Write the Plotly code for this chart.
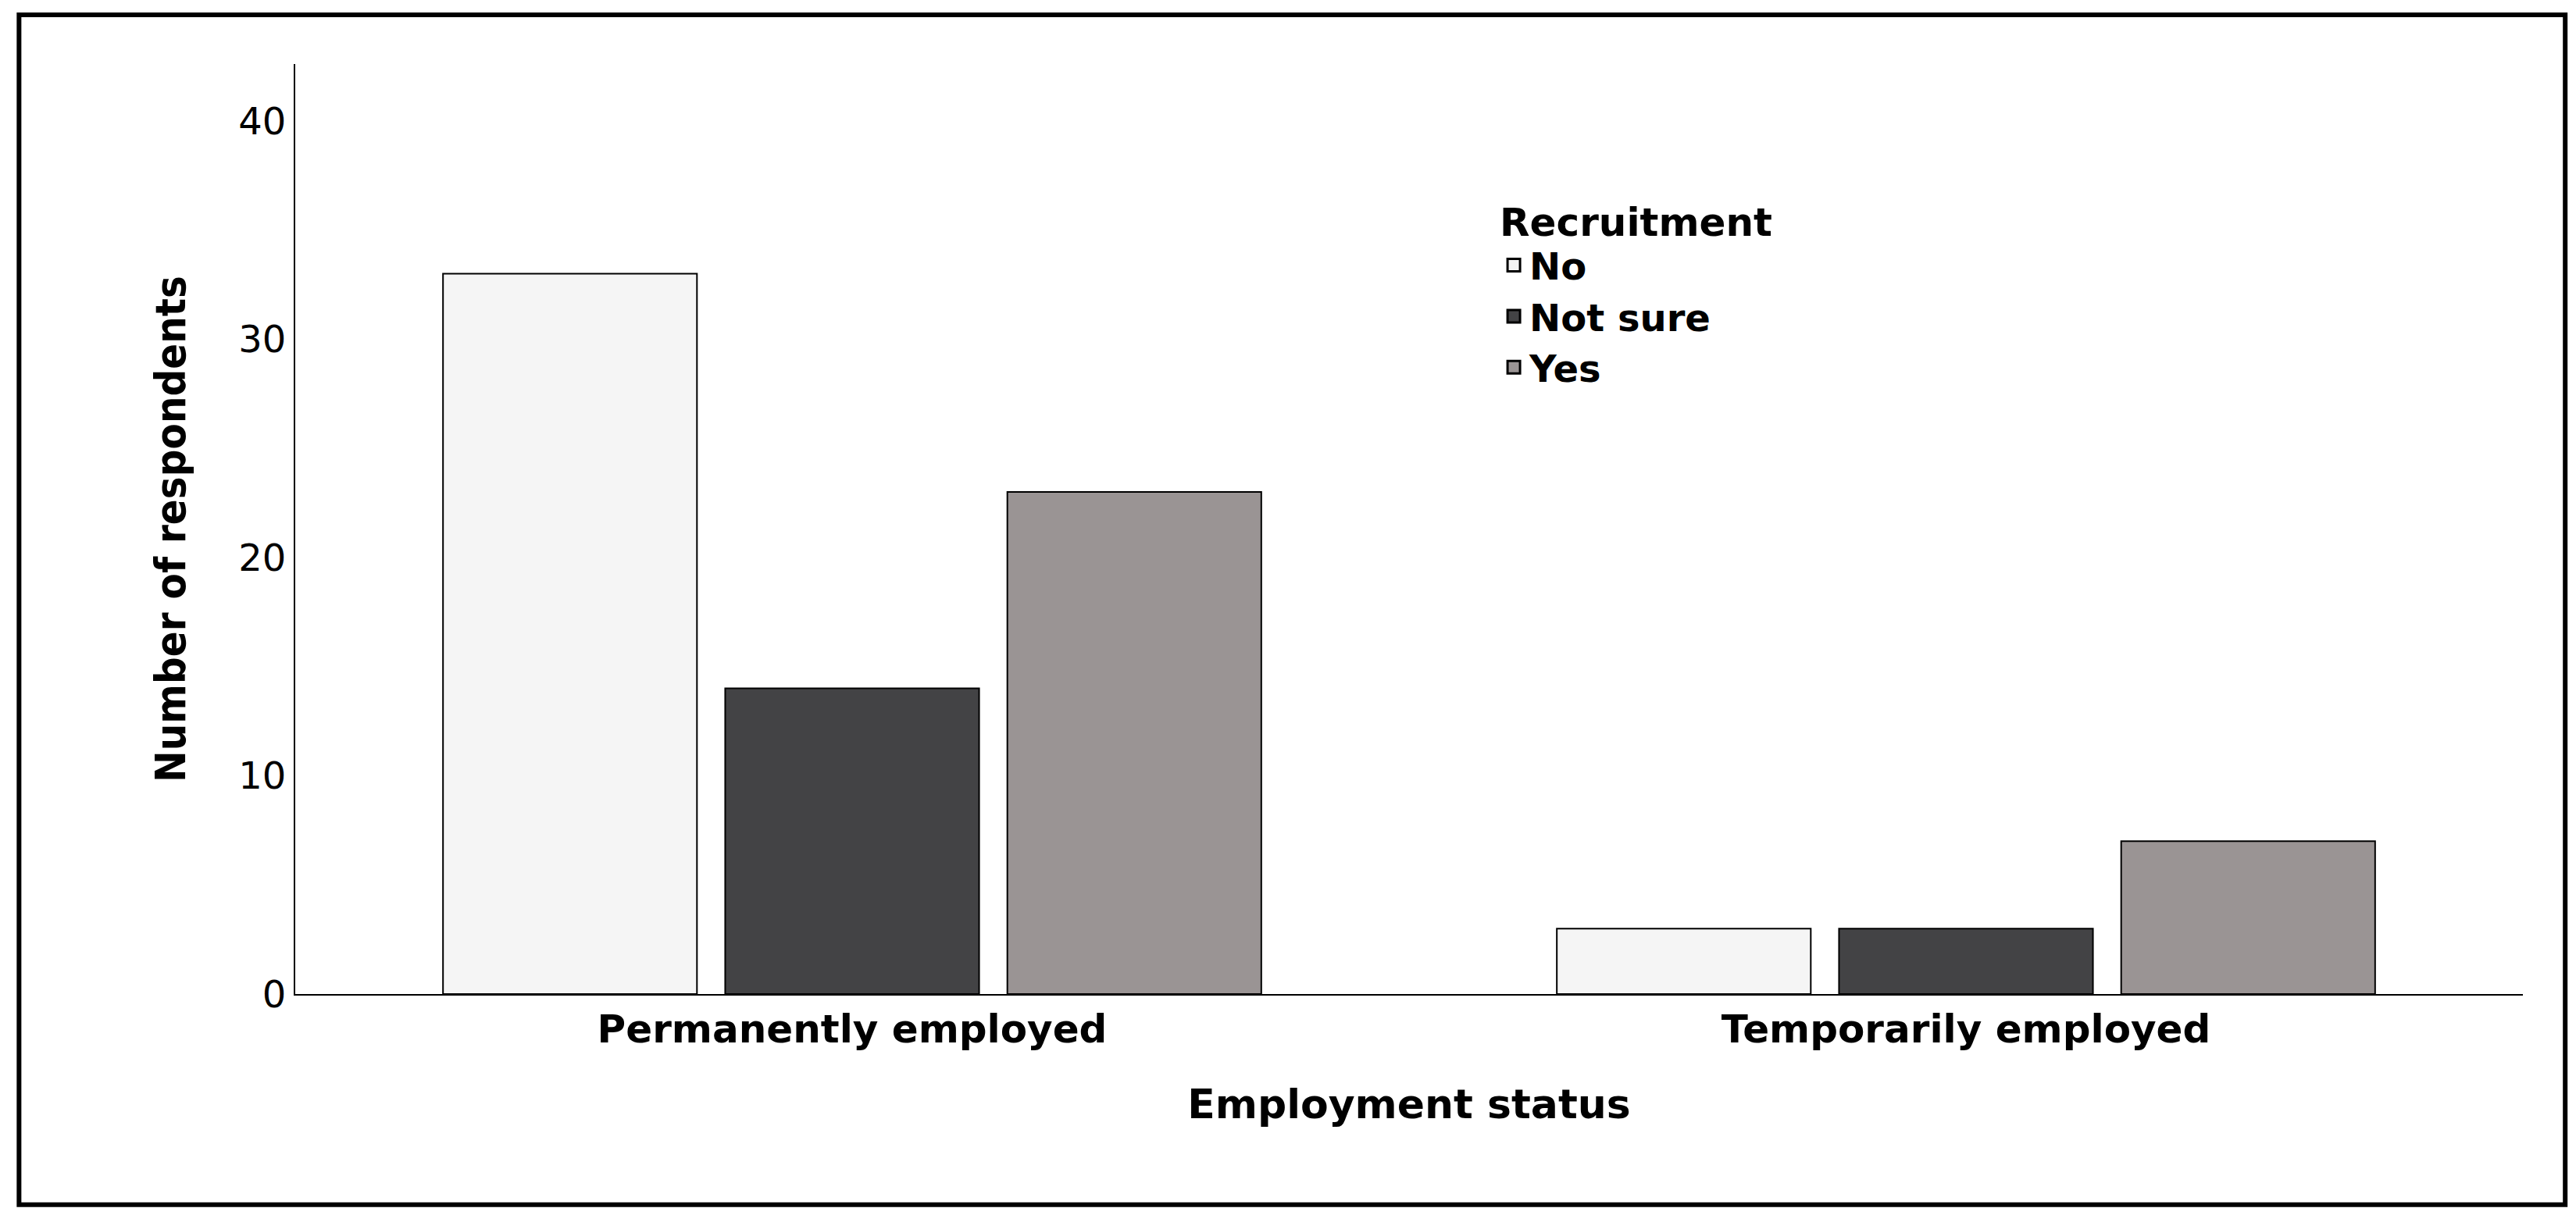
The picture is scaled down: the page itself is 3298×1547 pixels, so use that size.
import plotly.graph_objects as go

categories = ["Permanently employed", "Temporarily employed"]
series_names = ["No", "Not sure", "Yes"]
values_no = [33, 3]
values_not_sure = [14, 3]
values_yes = [23, 7]
colors = ["#f5f5f5", "#434345", "#9a9494"]

fig = go.Figure()
for name, vals, col in zip(series_names, [values_no, values_not_sure, values_yes], colors):
    fig.add_trace(go.Bar(x=categories, y=vals, name=name, showlegend=False,
                         marker=dict(color=col, line=dict(color="black", width=2))))
# legend entries with large square swatches
for name, col in zip(series_names, colors):
    fig.add_trace(go.Scatter(x=[None], y=[None], mode="markers", name="<b>" + name + "</b>",
                             marker=dict(symbol="square", size=34, color=col,
                                         line=dict(color="black", width=3))))

fig.update_layout(
    width=3298, height=1547,
    paper_bgcolor="white", plot_bgcolor="white",
    margin=dict(l=370, r=76, t=74, b=282),
    barmode="group", bargap=0.24, bargroupgap=0.1,
    font=dict(family="DejaVu Sans, Verdana, sans-serif", color="black", size=50),
    legend=dict(x=0.54, y=0.87, xanchor="left", yanchor="top",
                title=dict(text="<b>Recruitment</b>", font=dict(size=50)),
                font=dict(size=48), bgcolor="rgba(0,0,0,0)", tracegroupgap=0,
                itemwidth=30),
    xaxis=dict(showline=True, linecolor="black", linewidth=2, showgrid=False,
               ticks="", tickfont=dict(size=50),
               title=dict(text="<b>Employment status</b>", font=dict(size=52), standoff=50)),
    yaxis=dict(range=[0, 42.6], dtick=10, showline=True, linecolor="black", linewidth=2,
               showgrid=False, zeroline=False, ticks="", tickfont=dict(size=48),
               title=dict(text="<b>Number of respondents</b>", standoff=50,
                          font=dict(size=54, family="Liberation Sans Narrow, DejaVu Sans Condensed, sans-serif"))),
)
fig.update_xaxes(tickprefix="<b>", ticksuffix="</b>")
fig.add_shape(type="rect", xref="paper", yref="paper", x0=-0.124, x1=1.019, y0=-0.2265, y1=1.053,
              line=dict(color="black", width=6))
fig.write_html("out.html")
